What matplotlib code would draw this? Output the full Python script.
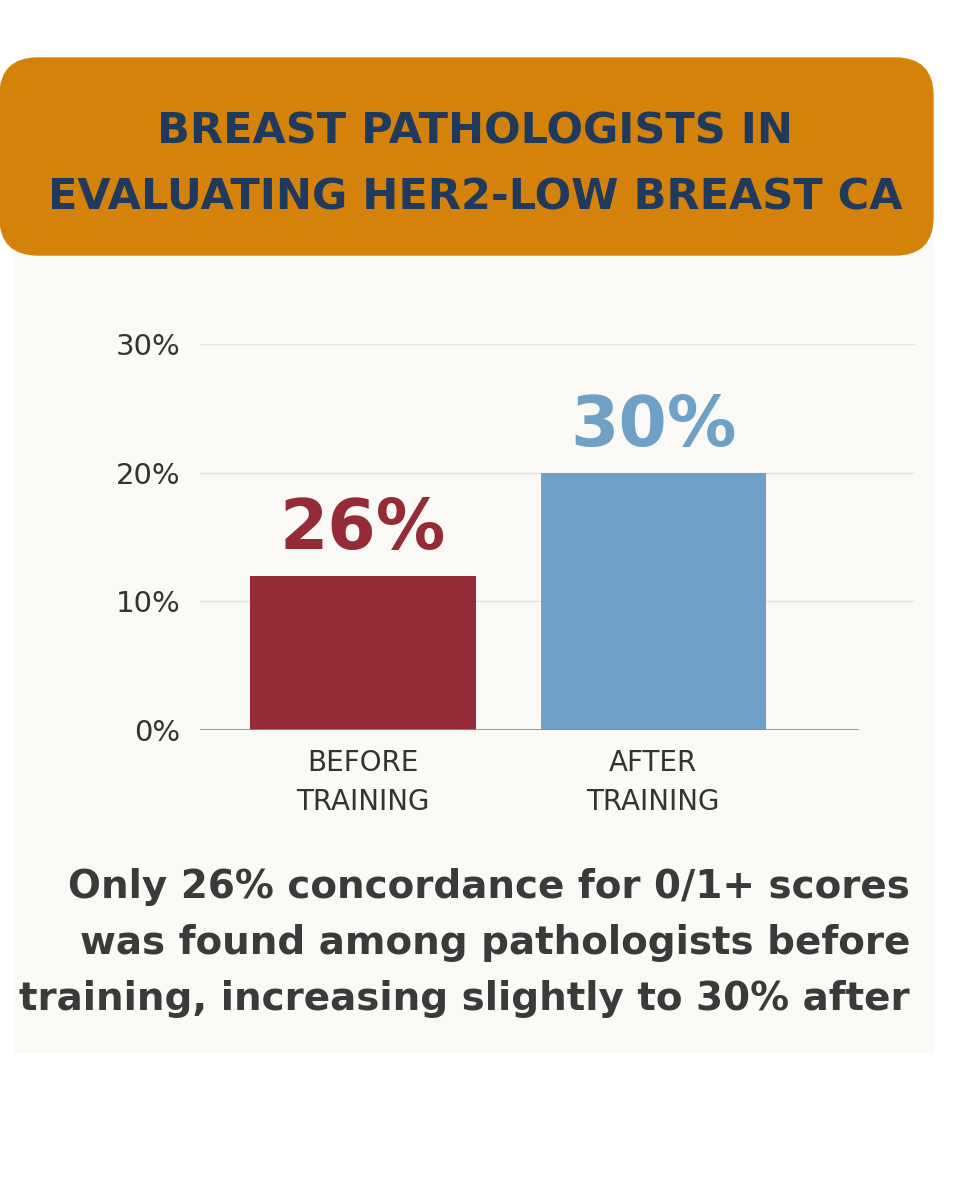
import matplotlib
matplotlib.use("Agg")
import matplotlib.pyplot as plt
from matplotlib.patches import FancyBboxPatch, Rectangle

categories = ["BEFORE\nTRAINING", "AFTER\nTRAINING"]
bar_values = [12, 20]
bar_labels = ["26%", "30%"]
yticks = [0, 10, 20, 30]
ytick_labels = ["0%", "10%", "20%", "30%"]
colors = ["#952B36", "#6FA0C6"]

W, H = 960, 1200
fig = plt.figure(figsize=(9.6, 12), dpi=100)
fig.patch.set_facecolor("white")
bg = fig.add_axes([0, 0, 1, 1]); bg.set_xlim(0, W); bg.set_ylim(H, 0); bg.axis("off")
bg.add_patch(Rectangle((15, 240), 918, 812, color="#FAF9F6", zorder=0))
bg.add_patch(FancyBboxPatch((0, 58), 933, 197, boxstyle="round,pad=0,rounding_size=38",
                            color="#D4820A", zorder=1))
bg.text(475, 131, "BREAST PATHOLOGISTS IN", ha="center", va="center", fontsize=31,
        fontweight="bold", color="#1F3A5C", zorder=2)
bg.text(475, 198, "EVALUATING HER2-LOW BREAST CA", ha="center", va="center", fontsize=31,
        fontweight="bold", color="#1F3A5C", zorder=2)
lines = ["Only 26% concordance for 0/1+ scores",
         "was found among pathologists before",
         "training, increasing slightly to 30% after"]
for i, t in enumerate(lines):
    bg.text(910, 887 + 56 * i, t, ha="right", va="center", fontsize=28,
            fontweight="bold", color="#3A3A3A")

ax = fig.add_axes([200 / W, 1 - 730 / H, 715 / W, 386 / H])
ax.patch.set_alpha(0)
x = [0, 1]
ax.bar(x, bar_values, width=0.776, color=colors, zorder=3)
ax.set_xlim(-0.562, 1.903)
ax.set_ylim(0, 30)
for s in ax.spines.values():
    s.set_visible(False)
for yv in yticks[1:]:
    ax.axhline(yv, color="#E2E2E2", lw=1, xmin=-0.01, zorder=1)
ax.axhline(0, color="#888888", lw=1.2, xmax=658 / 715, zorder=4)
ax.set_yticks(yticks)
ax.set_yticklabels(ytick_labels, fontsize=21, color="#333333")
ax.set_xticks(x)
ax.set_xticklabels(categories, fontsize=20, color="#333333", linespacing=1.5)
ax.tick_params(length=0, pad=14)
ax.tick_params(axis="x", pad=14)
for xi, v, lab, c in zip(x, bar_values, bar_labels, colors):
    ax.text(xi, v + 1.0, lab, ha="center", va="bottom", fontsize=50,
            fontweight="bold", color=c, clip_on=False)

fig.savefig("out.png", dpi=100)
